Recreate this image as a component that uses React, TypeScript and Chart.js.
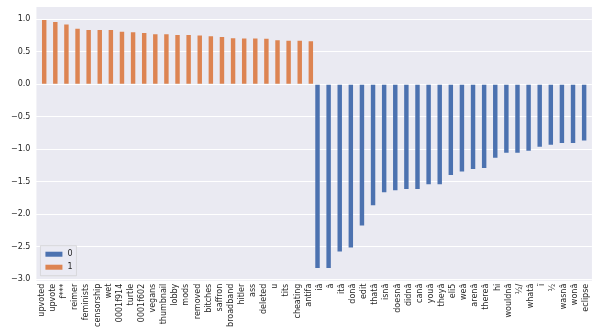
import React, { useEffect, useRef } from "react";
import { Chart, registerables } from "chart.js";

Chart.register(...registerables);

const categories = [
  "upvoted", "upvote", "f***", "reimer", "feminists", "censorship", "wet", "0001f914", "turtle", "0001f602",
  "vegans", "thumbnail", "lobby", "mods", "removed", "bitches", "saffron", "broadband", "hitler", "ass",
  "deleted", "u", "tits", "cheating", "antifa",
  "iâ", "â", "itâ", "donâ", "edit", "thatâ", "isnâ", "doesnâ", "didnâ", "canâ",
  "youâ", "theyâ", "eli5", "weâ", "arenâ", "thereâ", "hi", "wouldnâ", "½/", "whatâ",
  "ï", "½", "wasnâ", "wonâ", "eclipse",
];

const class1Values = [
  0.99, 0.96, 0.92, 0.856, 0.835, 0.835, 0.835, 0.81, 0.8, 0.79,
  0.77, 0.77, 0.76, 0.76, 0.75, 0.74, 0.73, 0.71, 0.705, 0.705,
  0.7, 0.68, 0.67, 0.67, 0.665,
];

const class0Values = [
  -2.826, -2.826, -2.57, -2.51, -2.17, -1.86, -1.66, -1.63, -1.61, -1.61,
  -1.535, -1.535, -1.395, -1.34, -1.3, -1.285, -1.13, -1.05, -1.05, -1.02,
  -0.96, -0.93, -0.9, -0.9, -0.865,
];

const seriesLabels = ["0", "1"];
const yTicks = [-3.0, -2.5, -2.0, -1.5, -1.0, -0.5, 0.0, 0.5, 1.0];

const BLUE = "#4C72B0";
const ORANGE = "#DD8452";
const FONT = "'DejaVu Sans', sans-serif";

const legendPlugin = {
  id: "innerLegend",
  afterDraw(chart: any) {
    const { ctx, chartArea } = chart;
    const ds = chart.data.datasets;
    const x0 = chartArea.left + 4;
    const rowH = 13;
    const boxH = ds.length * rowH + 4;
    const y0 = chartArea.bottom - 5 - boxH;
    const w = 36;
    ctx.save();
    ctx.fillStyle = "rgba(234,234,242,0.8)";
    ctx.strokeStyle = "rgba(204,204,204,0.8)";
    ctx.lineWidth = 0.8;
    ctx.beginPath();
    ctx.rect(x0, y0, w, boxH);
    ctx.fill();
    ctx.stroke();
    ctx.font = `8px ${FONT}`;
    ctx.textBaseline = "middle";
    ds.forEach((d: any, i: number) => {
      const cy = y0 + 2 + rowH * i + rowH / 2;
      ctx.fillStyle = d.backgroundColor;
      ctx.fillRect(x0 + 5, cy - 2.5, 17, 5);
      ctx.fillStyle = "#262626";
      ctx.fillText(d.label, x0 + 27, cy);
    });
    ctx.restore();
  },
};

export default function App() {
  const ref = useRef<HTMLCanvasElement>(null);
  useEffect(() => {
    document.body.style.margin = "0";
    const d0 = categories.map((_, i) => (i >= class1Values.length ? class0Values[i - class1Values.length] : null));
    const d1 = categories.map((_, i) => (i < class1Values.length ? class1Values[i] : null));
    const chart = new Chart(ref.current!, {
      type: "bar",
      data: {
        labels: categories,
        datasets: [
          { label: seriesLabels[0], data: d0, backgroundColor: BLUE, borderWidth: 0 },
          { label: seriesLabels[1], data: d1, backgroundColor: ORANGE, borderWidth: 0 },
        ],
      },
      plugins: [
        legendPlugin,
        {
          id: "bg",
          beforeDraw(c: any) {
            const { ctx, chartArea } = c;
            ctx.save();
            ctx.fillStyle = "#ffffff";
            ctx.fillRect(0, 0, c.width, c.height);
            ctx.fillStyle = "#EAEAF2";
            ctx.fillRect(chartArea.left, chartArea.top, chartArea.right - chartArea.left, chartArea.bottom - chartArea.top);
            ctx.restore();
          },
        },
      ],
      options: {
        animation: false,
        responsive: false,
        maintainAspectRatio: false,
        layout: { padding: { left: 5, right: 4, top: 7, bottom: 6 } },
        datasets: { bar: { categoryPercentage: 0.8, barPercentage: 1.0, skipNull: false } },
        plugins: { legend: { display: false }, tooltip: { enabled: false } },
        scales: {
          x: {
            grid: { display: false, drawTicks: false },
            border: { display: false },
            ticks: {
              autoSkip: false,
              maxRotation: 90,
              minRotation: 90,
              padding: 3,
              color: "#262626",
              font: { family: FONT, size: 8 },
            },
          },
          y: {
            min: -3.02,
            max: 1.19,
            grid: { color: "#ffffff", lineWidth: 1, drawTicks: false },
            border: { display: false },
            afterBuildTicks(axis: any) {
              axis.ticks = yTicks.map((v) => ({ value: v }));
            },
            afterFit(axis: any) {
              axis.paddingTop = 0;
            },
            ticks: {
              padding: 6,
              color: "#262626",
              font: { family: FONT, size: 8 },
              callback: (v: any) => Number(v).toFixed(1).replace("-", "\u2212"),
            },
          },
        },
      },
    } as any);
    return () => chart.destroy();
  }, []);
  return <canvas ref={ref} width={599} height={336} style={{ display: "block" }} />;
}
